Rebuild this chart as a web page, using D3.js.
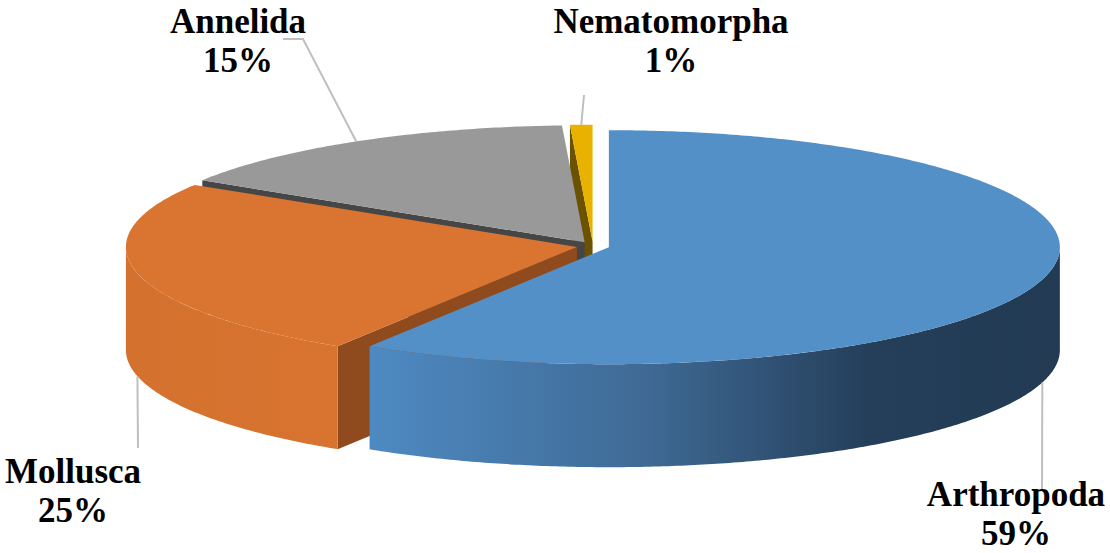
<!DOCTYPE html>
<html><head><meta charset="utf-8">
<script src="https://cdn.jsdelivr.net/npm/d3@7"></script>
<style>body{margin:0;background:#fff;overflow:hidden}</style>
</head><body>
<svg id="chart" width="1110" height="553"></svg>
<script>
// ---- data ----
const categories = ["Arthropoda", "Mollusca", "Annelida", "Nematomorpha"];
const values = [58.9, 25.0, 15.3, 0.8];

// ---- styles ----
const topColors = ["#5390c8", "#d97530", "#999999", "#e9b200"];
const cutColors = ["#2c4a68", "#8f4b1e", "#464646", "#6b5200"];
const wallStops = [
  [["0%", "#4e8ac2"], ["40%", "#3f6a95"], ["72%", "#253f5b"], ["100%", "#223a52"]],
  [["0%", "#d4712e"], ["100%", "#d87430"]],
  [["0%", "#8a8a8a"], ["100%", "#6a6a6a"]],
  [["0%", "#d9a500"], ["100%", "#b88c00"]]
];

// ---- layout ----
const W = 1110, H = 553;
const cx = 593, cy = 246, rx = 451, ry = 117, depth = 103, explode = 16.5;
const fontSize = 35, lineGap = 39;
// label layout: text centre x, first baseline y, label-side leader points
const labelLayout = [
  { x: 1016, y: 506, leader: [[1042, 490]] },
  { x: 73,   y: 483, leader: [[138, 448]] },
  { x: 238,  y: 33,  leader: [[303, 39], [283, 39]] },
  { x: 671,  y: 33,  leader: [[584, 95]] }
];

const svg = d3.select("#chart");
const defs = svg.append("defs");

const pie = d3.pie().sort(null).value(d => d);
const arcs = pie(values).map((a, i) => {
  const mid = (a.startAngle + a.endAngle) / 2;
  const ox = cx + explode * Math.sin(mid);
  const oy = cy - explode * Math.cos(mid) * ry / rx;
  return { ...a, i, mid, ox, oy };
});

const rim = (s, ang, dz = 0) => [s.ox + rx * Math.sin(ang), s.oy - ry * Math.cos(ang) + dz];
const sample = (a0, a1) => {
  const n = Math.max(2, Math.ceil(Math.abs(a1 - a0) / 0.01));
  return d3.range(n + 1).map(k => a0 + (a1 - a0) * k / n);
};
const line = d3.line();

const wallLayer = svg.append("g");
const topLayer = svg.append("g");
const leaderLayer = svg.append("g");
const textLayer = svg.append("g");

// walls: back-to-front
const order = arcs.slice().sort((p, q) => (-Math.cos(p.mid)) - (-Math.cos(q.mid)));
order.forEach(s => {
  const g = wallLayer.append("g");
  const faces = [];
  if (Math.sin(s.startAngle) < -1e-9) faces.push(s.startAngle);
  if (Math.sin(s.endAngle) > 1e-9) faces.push(s.endAngle);
  faces.forEach(ang => {
    const pts = [[s.ox, s.oy], rim(s, ang), rim(s, ang, depth), [s.ox, s.oy + depth]];
    g.append("path").attr("d", line(pts) + "Z").attr("fill", cutColors[s.i]);
  });
  const a0 = Math.max(s.startAngle, Math.PI / 2);
  const a1 = Math.min(s.endAngle, 3 * Math.PI / 2);
  if (a1 > a0) {
    const angs = sample(a0, a1);
    const topPts = angs.map(a => rim(s, a));
    const botPts = angs.slice().reverse().map(a => rim(s, a, depth));
    const xs = topPts.map(p => p[0]);
    const gid = "wall" + s.i;
    const grad = defs.append("linearGradient").attr("id", gid)
      .attr("gradientUnits", "userSpaceOnUse")
      .attr("x1", d3.min(xs)).attr("x2", d3.max(xs)).attr("y1", 0).attr("y2", 0);
    wallStops[s.i].forEach(st => grad.append("stop").attr("offset", st[0]).attr("stop-color", st[1]));
    g.append("path").attr("d", line(topPts.concat(botPts)) + "Z").attr("fill", `url(#${gid})`);
  }
});

// tops
arcs.forEach(s => {
  const pts = [[s.ox, s.oy]].concat(sample(s.startAngle, s.endAngle).map(a => rim(s, a)));
  topLayer.append("path").attr("d", line(pts) + "Z").attr("fill", topColors[s.i]);
});

// leaders & labels
const fmt = v => Math.round(v) + "%";
arcs.forEach(s => {
  const front = -Math.cos(s.mid) > 0;
  const start = rim(s, s.mid, front ? depth : 0);
  const pts = [start].concat(labelLayout[s.i].leader);
  leaderLayer.append("path").attr("d", line(pts))
    .attr("fill", "none").attr("stroke", "#bfbfbf").attr("stroke-width", 2);
  const L = labelLayout[s.i];
  const t = textLayer.append("text")
    .attr("text-anchor", "middle")
    .attr("font-family", "'Liberation Serif','Times New Roman',serif")
    .attr("font-weight", "bold").attr("font-size", fontSize).attr("fill", "#000");
  t.append("tspan").attr("x", L.x).attr("y", L.y).text(categories[s.i]);
  t.append("tspan").attr("x", L.x).attr("y", L.y + lineGap).text(fmt(values[s.i]));
});
</script>
</body></html>
